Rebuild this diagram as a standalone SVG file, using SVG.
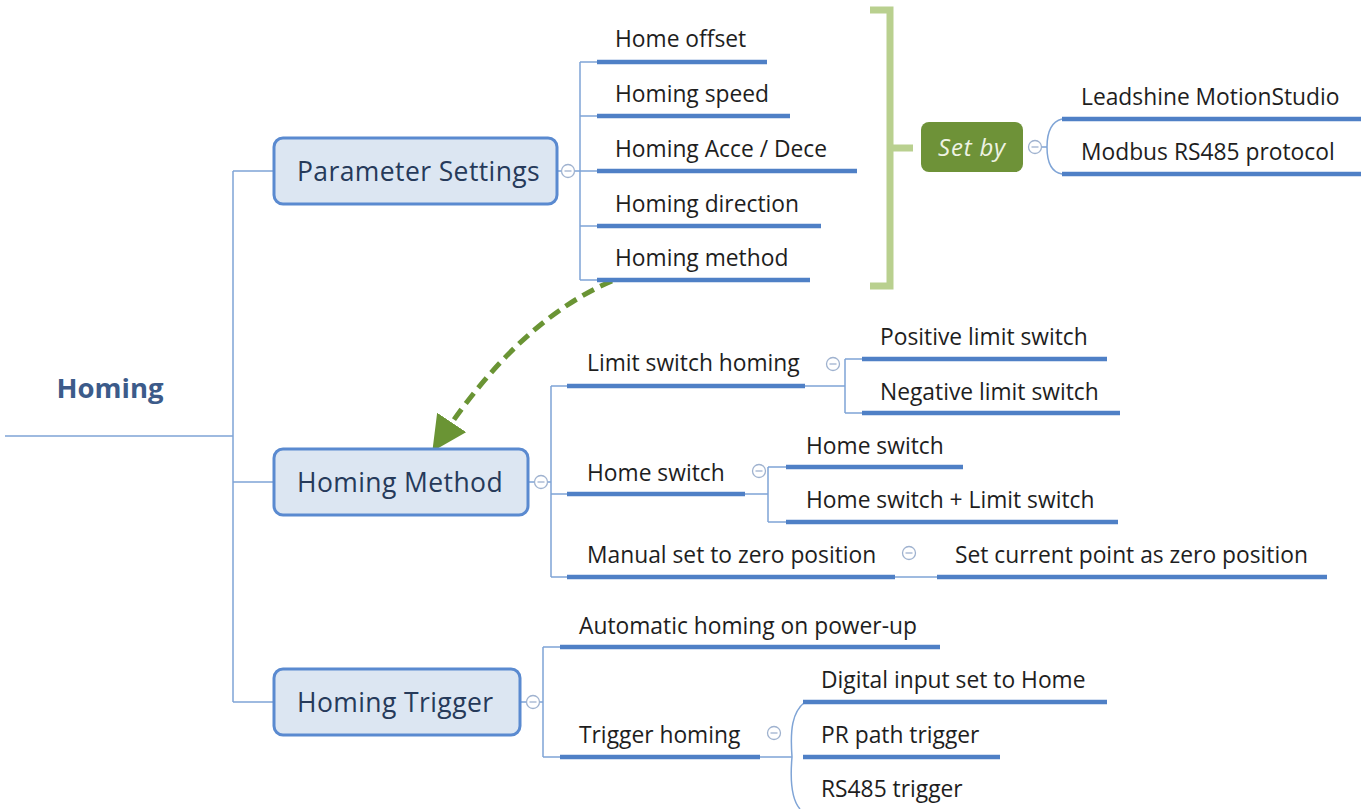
<svg xmlns="http://www.w3.org/2000/svg" width="1361" height="809" viewBox="0 0 1361 809">
<style>
text{font-family:"Open Sans","Noto Sans","Liberation Sans",sans-serif;fill:#1e1e1e}
.t{font-size:22.8px}
.bx{fill:#dce6f2;stroke:#5a8ad0;stroke-width:3}
.bt{font-size:26.5px;fill:#263a5a;letter-spacing:0.4px}
.ln{stroke:#7fa4d6;stroke-width:1.5;fill:none}
.ul{stroke:#4f80c6;stroke-width:4.5;fill:none}
.cc{fill:#fff;stroke:#9fb2cf;stroke-width:1.3}
.cm{stroke:#9fb2cf;stroke-width:1.3}
.br{stroke:#b9d08f;stroke-width:7;fill:none}
</style>
<defs>
<marker id="ah" markerWidth="7" markerHeight="7" refX="3.5" refY="3.5" orient="auto" markerUnits="strokeWidth">
<path d="M0,0 L7,3.5 L0,7 z" fill="#6a9434"/>
</marker>
</defs>
<rect width="1361" height="809" fill="#fff"/>

<g id="connectors">
<path class="ln" d="M5 436 H233 M233 171 V702 M233 171 H274 M233 482 H274 M233 702 H274"/>
<path class="ln" d="M557 171 H580 M580 62 V280 M580 62 H597 M580 116 H597 M580 171 H597 M580 226 H597 M580 280 H597"/>
<path class="ln" d="M528 482 H551 M551 386 V577 M551 386 H567 M551 494 H567 M551 577 H567"/>
<path class="ln" d="M805 386 H845 M845 359 V413 M845 359 H862 M845 413 H862"/>
<path class="ln" d="M745 494 H768 M768 467 V522 M768 467 H786 M768 522 H786"/>
<path class="ln" d="M895 577 H937"/>
<path class="ln" d="M520 702 H543 M543 647 V757 M543 647 H560 M543 757 H560"/>
<path class="ln" d="M760 757 H792 M805 702 C 792 712, 790 730, 792 757 C 790 780, 792 800, 800 809"/>
<path class="ln" d="M1041 147 H1047 M1062 119 C 1050 122, 1047 135, 1047 147 C 1047 160, 1050 172, 1062 174"/>
<path class="br" d="M870 10 H890 V286 H870 M890 148 H913"/>
<path d="M612 281 Q 520 320 442 437" stroke="#6a9434" stroke-width="5" fill="none" stroke-dasharray="13 7" marker-end="url(#ah)"/>
</g>

<g id="root">
<text x="110" y="398" text-anchor="middle" style="font-size:27.5px;font-weight:bold;fill:#3c5b8a">Homing</text>
</g>

<g id="parameter-settings">
<rect class="bx" x="274" y="138" width="283" height="66" rx="9"/>
<text class="bt" x="297" y="181">Parameter Settings</text>
<circle class="cc" cx="568" cy="171" r="6.5"/><path class="cm" d="M564.5 171 H571.5"/>
</g>
<g id="home-offset"><path class="ul" d="M597 62 H767"/><text class="t" x="615" y="47">Home offset</text></g>
<g id="homing-speed"><path class="ul" d="M597 116 H790"/><text class="t" x="615" y="102">Homing speed</text></g>
<g id="homing-acce"><path class="ul" d="M597 171 H857"/><text class="t" x="615" y="157">Homing Acce / Dece</text></g>
<g id="homing-direction"><path class="ul" d="M597 226 H821"/><text class="t" x="615" y="212">Homing direction</text></g>
<g id="homing-method-param"><path class="ul" d="M597 280 H810"/><text class="t" x="615" y="266">Homing method</text></g>

<g id="set-by">
<rect x="921" y="122" width="102" height="50" rx="8" fill="#6e9238"/>
<text x="972" y="156" text-anchor="middle" style="font-size:24px;font-style:italic;fill:#eef3e4;letter-spacing:0.8px">Set by</text>
<circle class="cc" cx="1035" cy="147" r="6.5"/><path class="cm" d="M1031.5 147 H1038.5"/>
</g>
<g id="leadshine"><path class="ul" d="M1062 119 H1361"/><text class="t" x="1081" y="105">Leadshine MotionStudio</text></g>
<g id="modbus"><path class="ul" d="M1062 174 H1361"/><text class="t" x="1081" y="160">Modbus RS485 protocol</text></g>

<g id="homing-method">
<rect class="bx" x="274" y="449" width="254" height="66" rx="9"/>
<text class="bt" x="297" y="492">Homing Method</text>
<circle class="cc" cx="541" cy="482" r="6.5"/><path class="cm" d="M537.5 482 H544.5"/>
</g>
<g id="limit-switch-homing"><path class="ul" d="M567 386 H805"/><text class="t" x="587" y="371">Limit switch homing</text>
<circle class="cc" cx="833" cy="364" r="6.5"/><path class="cm" d="M829.5 364 H836.5"/></g>
<g id="positive-limit"><path class="ul" d="M862 359 H1107"/><text class="t" x="880" y="345">Positive limit switch</text></g>
<g id="negative-limit"><path class="ul" d="M862 413 H1120"/><text class="t" x="880" y="400">Negative limit switch</text></g>
<g id="home-switch"><path class="ul" d="M567 494 H745"/><text class="t" x="587" y="481">Home switch</text>
<circle class="cc" cx="759" cy="471" r="6.5"/><path class="cm" d="M755.5 471 H762.5"/></g>
<g id="home-switch-child"><path class="ul" d="M786 467 H963"/><text class="t" x="806" y="454">Home switch</text></g>
<g id="home-limit"><path class="ul" d="M786 522 H1118"/><text class="t" x="806" y="508">Home switch + Limit switch</text></g>
<g id="manual-zero"><path class="ul" d="M567 577 H895"/><text class="t" x="587" y="563">Manual set to zero position</text>
<circle class="cc" cx="909" cy="553" r="6.5"/><path class="cm" d="M905.5 553 H912.5"/></g>
<g id="set-current"><path class="ul" d="M937 577 H1327"/><text class="t" x="955" y="563">Set current point as zero position</text></g>

<g id="homing-trigger">
<rect class="bx" x="274" y="669" width="246" height="66" rx="9"/>
<text class="bt" x="297" y="712">Homing Trigger</text>
<circle class="cc" cx="533" cy="702" r="6.5"/><path class="cm" d="M529.5 702 H536.5"/>
</g>
<g id="auto-homing"><path class="ul" d="M560 647 H940"/><text class="t" x="579" y="634">Automatic homing on power-up</text></g>
<g id="trigger-homing"><path class="ul" d="M560 757 H760"/><text class="t" x="579" y="743">Trigger homing</text>
<circle class="cc" cx="774" cy="733" r="6.5"/><path class="cm" d="M770.5 733 H777.5"/></g>
<g id="digital-input"><path class="ul" d="M803 702 H1107"/><text class="t" x="821" y="688">Digital input set to Home</text></g>
<g id="pr-path"><path class="ul" d="M803 757 H1000"/><text class="t" x="821" y="743">PR path trigger</text></g>
<g id="rs485-trigger"><text class="t" x="821" y="797">RS485 trigger</text></g>
</svg>
